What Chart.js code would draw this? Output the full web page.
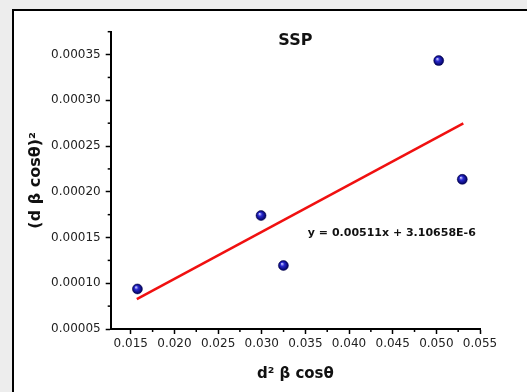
<!DOCTYPE html>
<html lang="en">
<head>
    <meta charset="UTF-8">
    <title>SSP</title>
    <style>
        html, body { margin: 0; padding: 0; }
        body { width: 527px; height: 392px; overflow: hidden; background: #ededed; position: relative; }
        .frame { position: absolute; left: 12px; top: 9px; width: 600px; height: 500px;
                 border-left: 2px solid #000; border-top: 2px solid #000; background: #fff; }
        #wrap { position: absolute; left: 0; top: 0; width: 527px; height: 392px; }
    </style>
</head>
<body>
    <div class="frame"></div>
    <div id="wrap"><canvas id="chart" width="527" height="392"></canvas></div>

    <script src="https://cdn.jsdelivr.net/npm/chart.js"></script>
    <script>
        // values
        const sizeX = [0.01576, 0.02992, 0.03248, 0.05027, 0.05297];
        const strainY = [0.0000938, 0.000174, 0.0001194, 0.0003434, 0.0002136];

        // fitted line end points: y = 0.00511x + 3.10658E-6
        const fitX = [0.01569, 0.05309];
        const fitY = [0.0000826, 0.0002747];

        const xTicks = [0.015, 0.020, 0.025, 0.030, 0.035, 0.040, 0.045, 0.050, 0.055];
        const xMinor = [0.0175, 0.0225, 0.0275, 0.0325, 0.0375, 0.0425, 0.0475, 0.0525];
        const yTicks = [0.00005, 0.00010, 0.00015, 0.00020, 0.00025, 0.00030, 0.00035];
        const yMinor = [0.000075, 0.000125, 0.000175, 0.000225, 0.000275, 0.000325, 0.000375];

        const titleText = 'SSP';
        const fitText = 'y = 0.00511x + 3.10658E-6';
        const fitTextAt = [0.0449, 0.000155];

        // blue "ball" markers
        function ballFill(ctx) {
            const chart = ctx.chart;
            if (!ctx.parsed || !chart.scales.x || !chart.scales.y) return '#14149a';
            const px = chart.scales.x.getPixelForValue(ctx.parsed.x);
            const py = chart.scales.y.getPixelForValue(ctx.parsed.y);
            if (!isFinite(px) || !isFinite(py)) return '#14149a';
            const g = chart.ctx.createRadialGradient(px - 1.5, py - 1.8, 0.3, px, py, 5);
            g.addColorStop(0, '#c8c8ff');
            g.addColorStop(0.35, '#2a2ad0');
            g.addColorStop(1, '#00005a');
            return g;
        }

        // minor ticks, title and fit equation
        const extras = {
            id: 'extras',
            afterDraw(chart) {
                const { ctx, chartArea, scales: { x, y } } = chart;
                ctx.save();
                ctx.strokeStyle = '#000';
                ctx.lineWidth = 1.5;
                xMinor.forEach(v => {
                    const p = x.getPixelForValue(v);
                    ctx.beginPath(); ctx.moveTo(p, chartArea.bottom); ctx.lineTo(p, chartArea.bottom + 3); ctx.stroke();
                });
                yMinor.forEach(v => {
                    const p = y.getPixelForValue(v);
                    ctx.beginPath(); ctx.moveTo(chartArea.left, p); ctx.lineTo(chartArea.left - 3, p); ctx.stroke();
                });

                ctx.fillStyle = '#111';
                ctx.textAlign = 'center';
                ctx.textBaseline = 'middle';
                ctx.font = 'bold 16px "DejaVu Sans"';
                ctx.fillText(titleText, (chartArea.left + chartArea.right) / 2, 41);
                ctx.font = 'bold 11px "DejaVu Sans"';
                ctx.fillText(fitText, x.getPixelForValue(fitTextAt[0]), y.getPixelForValue(fitTextAt[1]));
                ctx.restore();
            }
        };

        const config = {
            type: 'scatter',
            data: {
                datasets: [{
                    label: 'fit',
                    type: 'line',
                    data: fitX.map((v, i) => ({ x: v, y: fitY[i] })),
                    borderColor: '#f01010',
                    borderWidth: 2.5,
                    pointRadius: 0,
                    fill: false
                }, {
                    label: 'SSP',
                    data: sizeX.map((v, i) => ({ x: v, y: strainY[i] })),
                    pointRadius: 5,
                    pointHoverRadius: 5,
                    backgroundColor: ballFill,
                    borderColor: '#00004a',
                    borderWidth: 0.5
                }]
            },
            options: {
                responsive: false,
                animation: false,
                layout: { padding: { top: 31.7, right: 47, bottom: 0, left: 0 } },
                plugins: {
                    legend: { display: false },
                    tooltip: { enabled: false }
                },
                scales: {
                    x: {
                        type: 'linear',
                        min: 0.0127,
                        max: 0.055,
                        afterFit: s => { s.height = 63; },
                        afterBuildTicks: s => { s.ticks = xTicks.map(v => ({ value: v })); },
                        border: { color: '#000', width: 2 },
                        grid: { drawOnChartArea: false, color: '#000', tickLength: 5, tickWidth: 1.5 },
                        ticks: {
                            padding: 3,
                            color: '#222',
                            font: { family: 'DejaVu Sans', size: 12 },
                            callback: v => v.toFixed(3)
                        },
                        title: {
                            display: true,
                            text: 'd² β cosθ',
                            color: '#111',
                            font: { family: 'DejaVu Sans', size: 15, weight: 'bold' },
                            padding: { top: 0, bottom: 9 }
                        }
                    },
                    y: {
                        type: 'linear',
                        min: 0.00005,
                        max: 0.000375,
                        afterFit: s => { s.width = 110.7; },
                        afterBuildTicks: s => { s.ticks = yTicks.map(v => ({ value: v })); },
                        border: { color: '#000', width: 2 },
                        grid: { drawOnChartArea: false, color: '#000', tickLength: 5, tickWidth: 1.5 },
                        ticks: {
                            padding: 5,
                            color: '#222',
                            font: { family: 'DejaVu Sans', size: 12 },
                            callback: v => v.toFixed(5)
                        },
                        title: {
                            display: true,
                            text: '(d β cosθ)²',
                            color: '#111',
                            font: { family: 'DejaVu Sans', size: 16, weight: 'bold' },
                            padding: { top: 26, bottom: 0 }
                        }
                    }
                }
            },
            plugins: [extras]
        };

        new Chart(document.getElementById('chart'), config);
    </script>
</body>
</html>
